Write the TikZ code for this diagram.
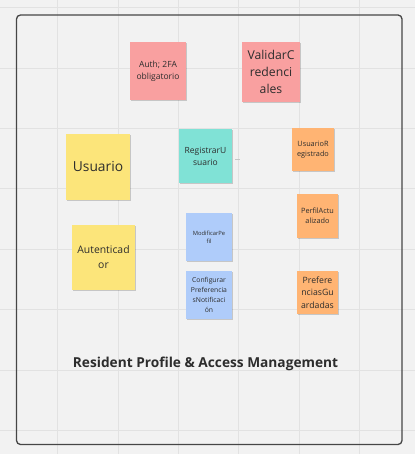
\documentclass[tikz,border=0pt]{standalone}
\usepackage{fontspec}
\setmainfont{Open Sans}
\usetikzlibrary{shadows}
\definecolor{canvas}{RGB}{242,242,242}
\definecolor{gridline}{RGB}{226,226,226}
\definecolor{framegray}{RGB}{70,70,70}
\definecolor{inktext}{RGB}{45,45,45}
\definecolor{stickyred}{RGB}{249,160,160}
\definecolor{stickyyellow}{RGB}{252,229,122}
\definecolor{stickyteal}{RGB}{128,226,214}
\definecolor{stickyorange}{RGB}{255,180,115}
\definecolor{stickyblue}{RGB}{175,204,250}
\begin{document}
\begin{tikzpicture}[x=1pt,y=-1pt,
  sticky/.style={rectangle, inner sep=1pt, align=center, text=inktext,
    drop shadow={shadow xshift=0.6pt, shadow yshift=-1.2pt, opacity=0.18, fill=black}},
  note/.style args={#1/#2}{sticky, minimum width=#1, minimum height=#2},
  title/.style={font=\bfseries\fontsize{13.7}{16}\selectfont, text=inktext}
]
% canvas and grid
\useasboundingbox (0,0) rectangle (415,454);
\fill[canvas] (0,0) rectangle (415,454);
\foreach \gx in {57.5,118,178.4,238.8,299.2,359.6}
  \draw[gridline, line width=0.8pt] (\gx,0) -- (\gx,454);
\foreach \gy in {7.5,68,128.4,188.8,249.2,309.6,370,430.4}
  \draw[gridline, line width=0.8pt] (0,\gy) -- (415,\gy);

% frame
\draw[framegray, line width=1.3pt, rounded corners=4pt] (16.5,15) rectangle (402,444.5);

% stickies
\node[note=56pt/58pt, fill=stickyred, font=\fontsize{8.5}{12}\selectfont] (auth) at (158,71) {Auth; 2FA\\obligatorio};
\node[note=58pt/60pt, fill=stickyred, font=\fontsize{12.2}{17}\selectfont] (valid) at (271,72) {ValidarC\\redenci\\ales};
\node[note=64pt/66pt, fill=stickyyellow, font=\fontsize{13.8}{16}\selectfont] (usuario) at (98,167) {Usuario};
\node[note=53pt/54pt, fill=stickyteal, font=\fontsize{8.5}{12}\selectfont] (reg) at (205.5,156) {RegistrarU\\suario};
\node[note=42pt/43pt, fill=stickyorange, font=\fontsize{7.3}{10.3}\selectfont] (ureg) at (313,149.5) {UsuarioR\\egistrado};
\node[note=41pt/44pt, fill=stickyorange, font=\fontsize{7.3}{10.3}\selectfont] (perfil) at (317.5,216) {PerfilActu\\alizado};
\node[note=63pt/65pt, fill=stickyyellow, font=\fontsize{10.4}{15}\selectfont] (autent) at (103.5,257.5) {Autenticad\\or};
\node[note=46pt/48pt, fill=stickyblue, font=\fontsize{5.8}{8}\selectfont] (modif) at (209,237) {ModificarPe\\fil};
\node[note=46pt/48pt, fill=stickyblue, font=\fontsize{6.8}{10}\selectfont] (config) at (209,295) {Configurar\\Preferencia\\sNotificaci\\ón};
\node[note=41pt/43pt, fill=stickyorange, font=\fontsize{8.7}{12.3}\selectfont] (prefs) at (317.5,292.5) {Prefere\\nciasGu\\ardadas};

% short connector stub beside RegistrarUsuario
\coordinate (stubA) at (235,159);
\coordinate (stubB) at (240,159);
\draw[gray!45, line width=0.6pt] (stubA) -- (stubB);

% frame title
\node[title] (frametitle) at (205.5,363.5) {Resident Profile \& Access Management};
\end{tikzpicture}
\end{document}
